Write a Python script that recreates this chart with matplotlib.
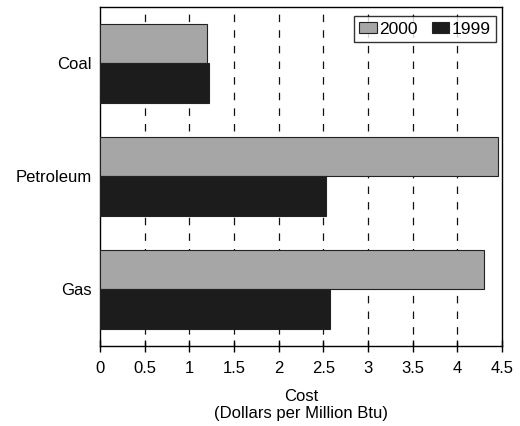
import matplotlib
matplotlib.use("Agg")
import matplotlib.pyplot as plt
import numpy as np

plt.rcParams['font.family'] = ['Liberation Sans', 'DejaVu Sans']

# Fuel cost by source, dollars per million Btu
fuels = ['Coal', 'Petroleum', 'Gas']
cost_2000 = [1.20, 4.45, 4.30]
cost_1999 = [1.22, 2.53, 2.57]
x_ticks = [0, 0.5, 1, 1.5, 2, 2.5, 3, 3.5, 4, 4.5]
x_tick_labels = ['0', '0.5', '1', '1.5', '2', '2.5', '3', '3.5', '4', '4.5']

fig = plt.figure(figsize=(5.2, 4.26), dpi=100)
ax = fig.add_axes([0.1923, 0.1878, 0.7731, 0.7958])

y = np.arange(len(fuels))
h = 0.35
ax.barh(y - h / 2, cost_2000, height=h, color='#a6a6a6', edgecolor='#222222',
        linewidth=0.8, label='2000', zorder=3)
ax.barh(y + h / 2, cost_1999, height=h, color='#1c1c1c', edgecolor='#222222',
        linewidth=0.8, label='1999', zorder=3)

ax.set_ylim(2.5, -0.5)
ax.set_xlim(0, 4.5)
ax.set_yticks(y)
ax.set_yticklabels(fuels, fontsize=12)
ax.tick_params(axis='y', length=0, pad=6)
ax.set_xticks(x_ticks)
ax.set_xticklabels(x_tick_labels, fontsize=12)
ax.tick_params(axis='x', direction='inout', length=8, width=1, pad=7)

for xv in x_ticks[1:-1]:
    ax.axvline(xv, color='#111111', linestyle=(3, (6, 6.5)), linewidth=0.9,
               zorder=1)

for s in ax.spines.values():
    s.set_linewidth(1.0)
    s.set_color('black')

ax.set_xlabel('Cost\n(Dollars per Million Btu)', fontsize=12, labelpad=9,
              linespacing=1.2)

leg = ax.legend(loc='upper right', bbox_to_anchor=(0.985, 0.972), ncol=2,
                fontsize=12.5, frameon=True, fancybox=False, borderpad=0.3,
                handlelength=1.0, handleheight=0.6, handletextpad=0.15,
                columnspacing=0.8, borderaxespad=0)
leg.get_frame().set_edgecolor('black')
leg.get_frame().set_linewidth(1.0)
leg.set_zorder(5)

fig.savefig('out.png', dpi=100)
